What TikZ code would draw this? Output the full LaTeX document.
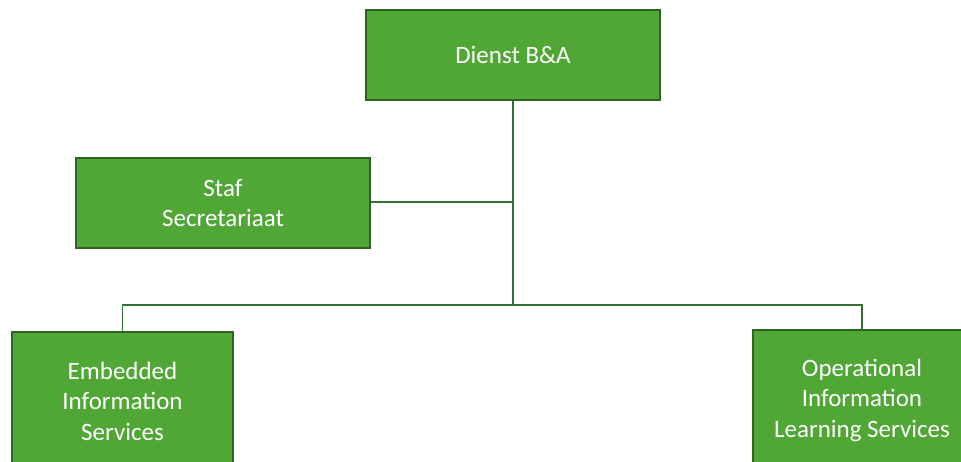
\documentclass[tikz,border=0pt]{standalone}
\usepackage{fontspec}
\setmainfont{Carlito}
\definecolor{boxfill}{RGB}{80,167,54}
\definecolor{boxedge}{RGB}{48,98,36}
\definecolor{linkgreen}{RGB}{52,112,52}
\begin{document}
\begin{tikzpicture}[x=1pt,y=-1pt,
  unit/.style={draw=boxedge, line width=2.6pt, fill=boxfill, text=white,
    align=center, inner sep=0pt,
    font=\fontsize{25}{30.5}\selectfont},
  link/.style={draw=linkgreen, line width=1.6pt}]
  \path[use as bounding box] (0,0) rectangle (961,462);
  \clip (0,0) rectangle (961,462);

  % boxes
  \node[unit, minimum width=294pt, minimum height=90pt] (dienst) at (513,55) {Dienst B\&A};
  \node[unit, minimum width=294pt, minimum height=90pt] (staf) at (223,203) {Staf\\Secretariaat};
  \node[unit, minimum width=221pt, minimum height=138pt] (eis) at (122.5,401) {Embedded\\Information\\Services};
  \node[unit, minimum width=218pt, minimum height=140pt] (oils) at (862,400) {Operational\\Information\\Learning Services};

  % junctions of the connectors
  \coordinate (trunk) at (513,305);
  \coordinate (stafjoin) at (513,202);

  % connectors
  \draw[link] (dienst.south) -- (trunk);
  \draw[link] (staf.east |- stafjoin) -- (stafjoin);
  \draw[link] (eis.north) |- (trunk) -| (oils.north);
\end{tikzpicture}
\end{document}
